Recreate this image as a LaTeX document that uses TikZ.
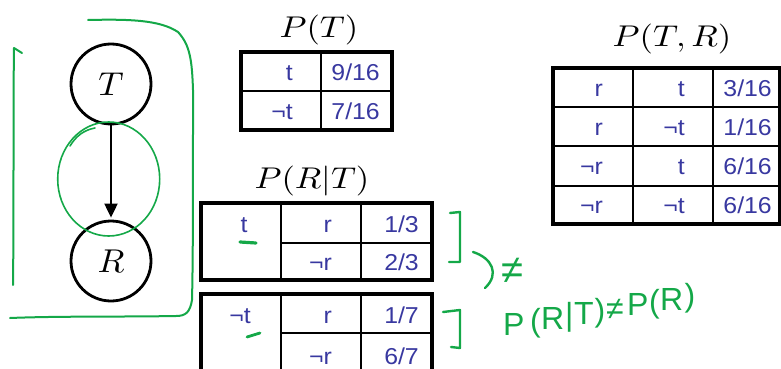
\documentclass[tikz,border=0pt]{standalone}
\usepackage{fontspec}
\newfontfamily\cellfont[FakeStretch=1.08]{Liberation Sans}
\newfontfamily\handfont{Liberation Sans}
\usetikzlibrary{arrows.meta}
\definecolor{cellblue}{RGB}{56,56,160}
\definecolor{inkgreen}{RGB}{20,168,72}
\newcommand{\bigmath}[3]{\scalebox{#1}[#2]{$#3$}}
\begin{document}
\begin{tikzpicture}[x=1pt,y=-1pt,
  bn/.style={circle,draw,line width=2.8pt,minimum size=80pt,inner sep=0pt},
  ink/.style={draw=inkgreen,line width=2.4pt,line cap=round,line join=round},
  thinink/.style={draw=inkgreen,line width=1.6pt,line cap=round,line join=round},
  cell/.style={text=cellblue,font=\cellfont\fontsize{23}{26}\selectfont,inner sep=0pt,anchor=base east},
  cellc/.style={text=cellblue,font=\cellfont\fontsize{23}{26}\selectfont,inner sep=0pt,anchor=base},
  ttl/.style={inner sep=0pt},
  outerbox/.style={draw,line width=3.2pt},
  innerline/.style={draw,line width=2pt},
  hand/.style={text=inkgreen,font=\handfont\fontsize{32}{38}\selectfont,inner sep=0pt,anchor=base west}]
\useasboundingbox (0,0) rectangle (781,369);
\begin{scope}
\clip (0,0) rectangle (781,369);

% Bayes net T -> R
\node[bn] (T) at (111,84) {\bigmath{3.5}{3.3}{T}};
\node[bn] (R) at (111,261) {\bigmath{3.5}{3.3}{R}};
\draw[line width=2pt,-{Triangle[length=14pt,width=13pt]},shorten >=2pt] (T) -- (R);

% P(T)
\node[ttl] (tT) at (319,30) {\bigmath{3.45}{3.0}{P(T)}};
\draw[innerline] (321,52) -- (321,130) (241,91) -- (392,91);
\draw[outerbox] (241,52) rectangle (392,130);
\node[cell] (pt1) at (293,80) {t};
\node[cell] (pv1) at (380,80) {9/16};
\node[cell] (pt2) at (293,119) {¬t};
\node[cell] (pv2) at (380,119) {7/16};

% P(R|T)
\node[ttl] (tRT) at (312,181) {\bigmath{3.45}{3.0}{P(R|T)}};
\draw[innerline] (281,203) -- (281,280) (361,203) -- (361,280) (281,243) -- (432,243);
\draw[outerbox] (201,203) rectangle (432,280);
\node[cellc] (c1) at (244,232) {t};
\node[cell] (c1a) at (332,232) {r};
\node[cell] (c1b) at (419,232) {1/3};
\node[cell] (c1c) at (332,270) {¬r};
\node[cell] (c1d) at (419,270) {2/3};

\draw[innerline] (281,294) -- (281,375) (361,294) -- (361,375) (281,333) -- (432,333);
\draw[outerbox] (201,294) rectangle (432,374);
\node[cellc] (c2) at (240,323) {¬t};
\node[cell] (c2a) at (332,323) {r};
\node[cell] (c2b) at (419,323) {1/7};
\node[cell] (c2c) at (332,364) {¬r};
\node[cell] (c2d) at (419,364) {6/7};

% P(T,R)
\node[ttl] (tTR) at (672,39) {\bigmath{3.45}{3.0}{P(T,R)}};
\draw[innerline] (633,68) -- (633,224) (713,68) -- (713,224)
  (553,107) -- (781,107) (553,146) -- (781,146) (553,186) -- (781,186);
\draw[outerbox] (553,68) rectangle (780,224);
\node[cell] (j1a) at (603,96) {r};
\node[cell] (j1b) at (685,96) {t};
\node[cell] (j1c) at (772,96) {3/16};
\node[cell] (j2a) at (603,135) {r};
\node[cell] (j2b) at (685,135) {¬t};
\node[cell] (j2c) at (772,135) {1/16};
\node[cell] (j3a) at (603,174) {¬r};
\node[cell] (j3b) at (685,174) {t};
\node[cell] (j3c) at (772,174) {6/16};
\node[cell] (j4a) at (603,213) {¬r};
\node[cell] (j4b) at (685,213) {¬t};
\node[cell] (j4c) at (772,213) {6/16};

% green ink annotations
\draw[thinink] (108.7,179) ellipse [x radius=51, y radius=57];
\draw[thinink] (70,146) .. controls (76,136) and (84,130) .. (95,128);
\draw[ink,line width=2pt] (22,53) -- (14,48) .. controls (13,120) and (14,200) .. (13,285);
\draw[ink,line width=2pt] (88,20) .. controls (130,19) and (160,20) .. (178,32)
  .. controls (190,45) and (192,60) .. (193,90)
  .. controls (193,200) and (193,260) .. (192,300)
  .. controls (190,312) and (186,316) .. (176,316)
  .. controls (120,317) and (60,316) .. (10,318);
\draw[ink,line width=3.2pt] (240,242) -- (256,243);
\draw[ink,line width=2.8pt] (247,337) -- (260,333);
\draw[ink] (450,213) -- (460,212) -- (460,262) -- (449,262);
\draw[ink] (473,252) .. controls (492,258) and (500,274) .. (485,288);
\node[hand,font=\handfont\fontsize{40}{44}\selectfont,anchor=center] (ne) at (512,271) {≠};
\draw[ink] (443,312) -- (460,310) -- (460,348) -- (451,347);
% handwritten inequality, each letter upright on a rising baseline
\foreach \xx/\ch [count=\i] in {503/{P},530/{(},541/{R},565/{|},574/{T},594.5/{)},606/{≠},627/{P},649/{(},660/{R},684.5/{)}}{
  \pgfmathsetmacro{\yy}{331-0.159*(\xx-532)}
  \node[hand] (hw\i) at (\xx,\yy) {\ch};
}
\end{scope}
\end{tikzpicture}
\end{document}
